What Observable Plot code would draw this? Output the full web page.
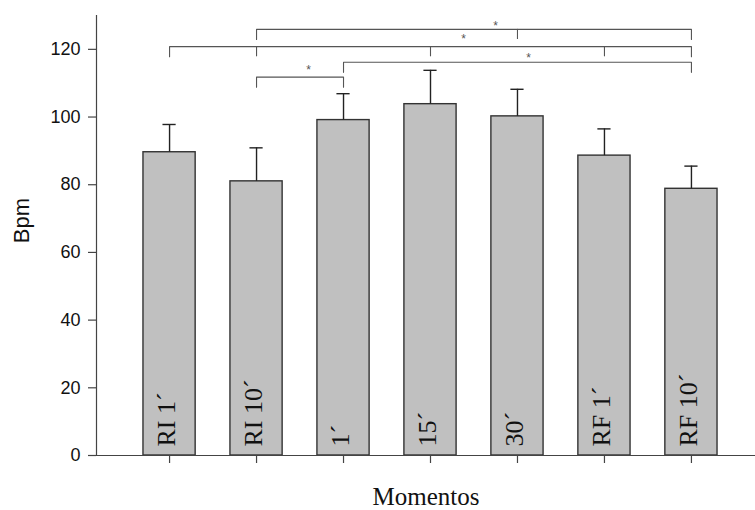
<!DOCTYPE html>
<html><head><meta charset="utf-8">
<script src="https://cdn.jsdelivr.net/npm/d3@7"></script>
<script src="https://cdn.jsdelivr.net/npm/@observablehq/plot@0.6"></script>
<style>body{margin:0;background:#fff}</style>
</head><body><div id="chart"></div>
<script>
const categories = ["RI 1´", "RI 10´", "1´", "15´", "30´", "RF 1´", "RF 10´"];
const means = [89.6, 81.0, 99.1, 103.8, 100.2, 88.6, 78.8];
const sds = [8.2, 9.9, 7.8, 10.0, 8.0, 7.9, 6.7];
const yTicks = [0, 20, 40, 60, 80, 100, 120];

// significance brackets
const bracketFrom = ["RI 10´", "RI 1´", "1´", "RI 10´"];
const bracketTo = ["RF 10´", "RF 10´", "RF 10´", "1´"];
const bracketLevel = [125.9, 120.8, 116.2, 111.8];
const bracketMid = [["30´"], ["RI 10´", "15´", "RF 1´"], [], []];
const starAt = ["30´", "15´", "30´", "1´"];
const starLevel = [127.7, 123.8, 118.2, 114.7];
const starShift = [-22, 33, 11, -35];

const drop = 3;
const data = categories.map((c, i) => ({cat: c, mean: means[i], top: means[i] + sds[i]}));
const bracketPts = [];
const bracketTicks = [];
bracketFrom.forEach((f, i) => {
  const L = bracketLevel[i];
  bracketPts.push({id: i, cat: f, y: L - drop}, {id: i, cat: f, y: L}, {id: i, cat: bracketTo[i], y: L}, {id: i, cat: bracketTo[i], y: L - drop});
  bracketMid[i].forEach(m => bracketTicks.push({cat: m, y1: L - drop, y2: L}));
});

const axisColor = "#444";
const sans = "'Liberation Sans', Arial, sans-serif";
const serif = "'Liberation Serif', 'Times New Roman', serif";

const plot = Plot.plot({
  width: 755,
  height: 510,
  marginLeft: 96,
  marginRight: 0,
  marginTop: 15,
  marginBottom: 55,
  style: {background: "#fff", overflow: "visible"},
  x: {type: "band", domain: categories, range: [96, 764], paddingInner: 0.4, paddingOuter: 0.54, round: false},
  y: {domain: [0, 130]},
  marks: [
    Plot.barY(data, {x: "cat", y: "mean", fill: "#c0c0c0", stroke: "#333", strokeWidth: 1.4}),
    Plot.ruleX(data, {x: "cat", y1: "mean", y2: "top", stroke: "#222", strokeWidth: 1.4}),
    Plot.tickY(data, {x: "cat", y: "top", stroke: "#222", strokeWidth: 1.4, insetLeft: 19.5, insetRight: 19.5}),
    Plot.text(data, {x: "cat", y: 0, text: "cat", rotate: -90, textAnchor: "start", lineAnchor: "middle", dy: -9, dx: -2.5, fontFamily: serif, fontSize: 26, fill: "#111"}),
    Plot.line(bracketPts, {x: "cat", y: "y", z: "id", stroke: "#555", strokeWidth: 1.1}),
    Plot.ruleX(bracketTicks, {x: "cat", y1: "y1", y2: "y2", stroke: "#555", strokeWidth: 1.1}),
    ...starAt.map((s, i) => Plot.text([i], {x: () => s, y: () => starLevel[i], text: () => "*", dx: starShift[i], dy: 3, fontSize: 12, fontFamily: sans, fill: "#555"})),
    Plot.frame({anchor: "left", stroke: axisColor, strokeWidth: 1.2}),
    Plot.ruleY([0], {stroke: axisColor, strokeWidth: 1.2}),
    Plot.axisY({ticks: yTicks, tickSize: 8, tickPadding: 8, fontSize: 18, fontFamily: sans, stroke: axisColor, strokeWidth: 1.2, label: null, color: "#111"}),
    Plot.axisX({tickSize: 8, tickFormat: () => "", stroke: axisColor, strokeWidth: 1.2, label: null}),
    Plot.text(["Bpm"], {frameAnchor: "left", text: d => d, rotate: -90, lineAnchor: "bottom", textAnchor: "middle", dx: -68, dy: -15, fontSize: 22, fontFamily: sans, fill: "#111"}),
    Plot.text(["Momentos"], {frameAnchor: "bottom", text: d => d, lineAnchor: "bottom", textAnchor: "middle", dy: 49, fontSize: 25, fontFamily: serif, fill: "#111"})
  ]
});
document.getElementById("chart").appendChild(plot);
</script>
</body></html>
